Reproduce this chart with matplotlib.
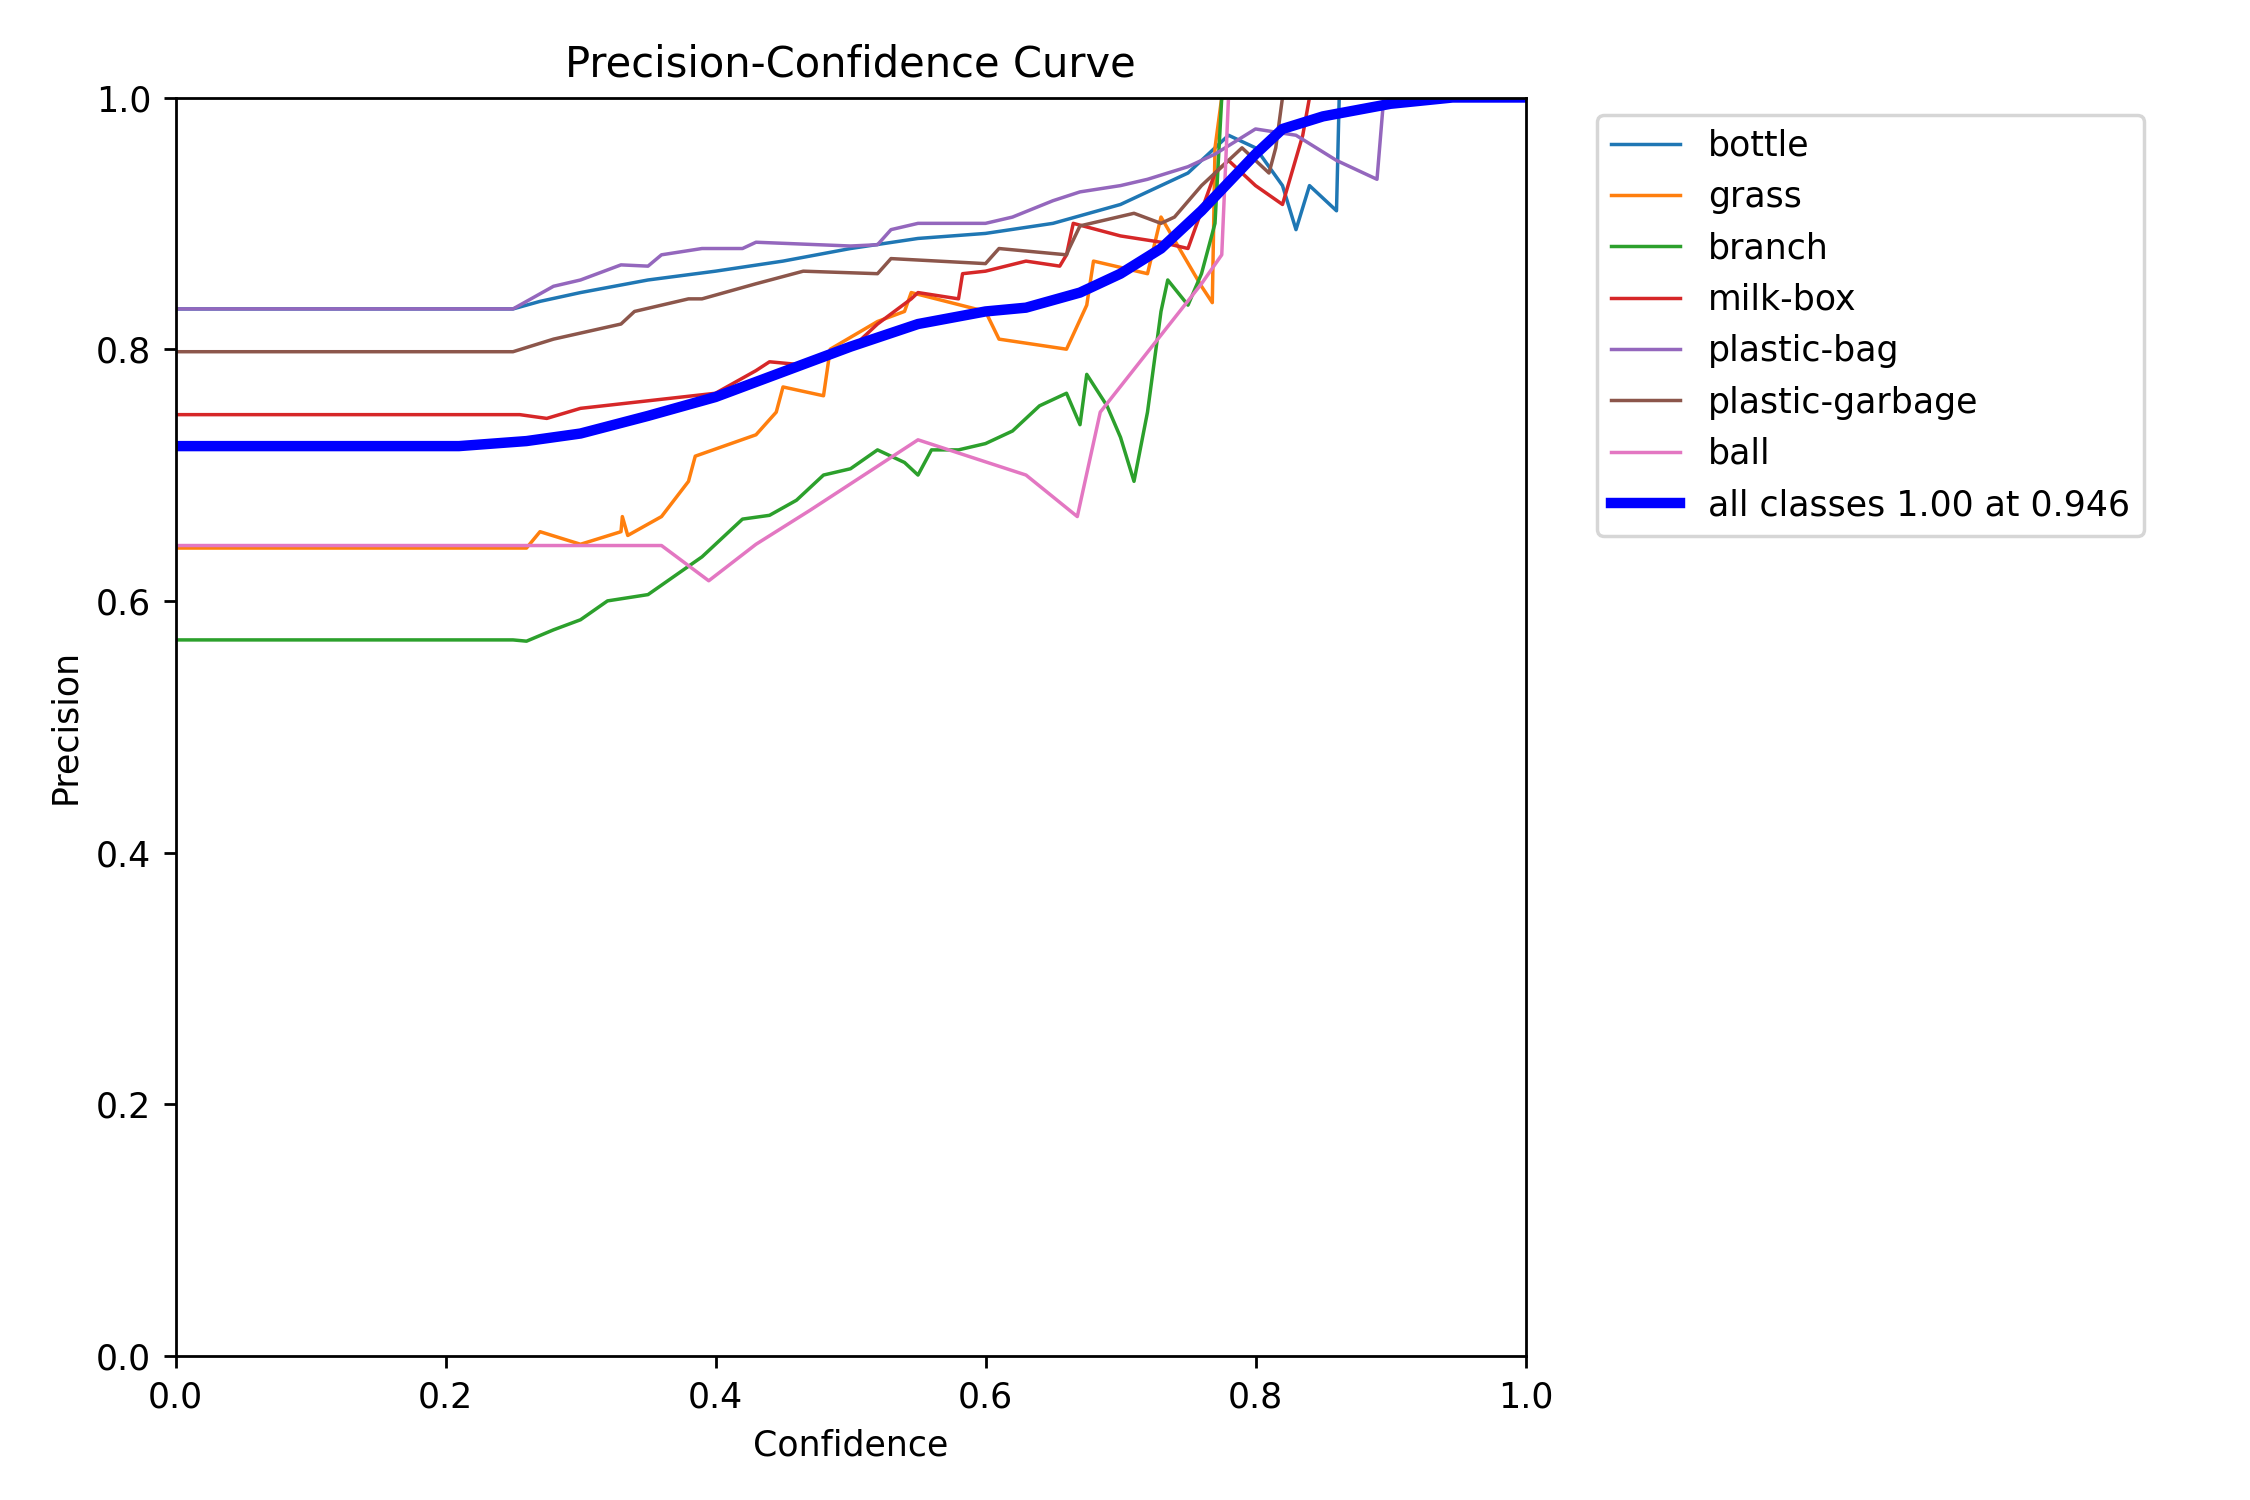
import matplotlib
matplotlib.use("Agg")
import matplotlib.pyplot as plt

names = ["bottle", "grass", "branch", "milk-box", "plastic-bag", "plastic-garbage", "ball"]

bottle_x = [0, .25, .27, .3, .35, .4, .45, .5, .55, .6, .65, .7, .75, .78, .8, .82, .83, .84, .85, .86, .862, 1]
bottle_y = [.832, .832, .838, .845, .855, .862, .87, .88, .888, .892, .9, .915, .94, .97, .96, .93, .895, .93, .92, .91, 1, 1]
grass_x = [0, .26, .27, .3, .33, .331, .335, .36, .38, .385, .43, .445, .45, .48, .485, .52, .54, .545, .6, .61, .66, .675, .68, .72, .73, .76, .768, .77, .775, 1]
grass_y = [.642, .642, .655, .645, .655, .667, .652, .667, .695, .715, .732, .75, .77, .763, .8, .822, .83, .845, .83, .808, .8, .835, .87, .86, .905, .85, .837, .96, 1, 1]
branch_x = [0, .25, .26, .28, .3, .32, .35, .37, .39, .4, .42, .44, .46, .48, .5, .52, .54, .55, .56, .58, .6, .62, .64, .66, .67, .675, .69, .7, .71, .72, .73, .735, .75, .76, .77, .775, 1]
branch_y = [.569, .569, .568, .577, .585, .6, .605, .62, .635, .645, .665, .668, .68, .7, .705, .72, .71, .7, .72, .72, .725, .735, .755, .765, .74, .78, .755, .73, .695, .75, .83, .855, .835, .86, .9, 1, 1]
milk_x = [0, .255, .275, .3, .4, .43, .44, .46, .5, .52, .545, .55, .58, .583, .6, .63, .655, .66, .665, .7, .73, .75, .77, .78, .8, .82, .835, .84, 1]
milk_y = [.748, .748, .745, .753, .765, .783, .79, .788, .8, .82, .84, .845, .84, .86, .862, .87, .866, .875, .9, .89, .885, .88, .94, .95, .93, .915, .97, 1, 1]
bag_x = [0, .25, .28, .3, .33, .35, .36, .39, .42, .43, .5, .52, .53, .55, .6, .62, .65, .67, .7, .72, .75, .77, .8, .83, .86, .88, .89, .895, 1]
bag_y = [.832, .832, .85, .855, .867, .866, .875, .88, .88, .885, .882, .883, .895, .9, .9, .905, .918, .925, .93, .935, .945, .955, .975, .97, .95, .94, .935, 1, 1]
garb_x = [0, .25, .28, .33, .34, .38, .39, .43, .465, .52, .53, .6, .61, .66, .662, .67, .71, .73, .74, .76, .79, .81, .815, .82, 1]
garb_y = [.798, .798, .808, .82, .83, .84, .84, .852, .862, .86, .872, .868, .88, .875, .88, .898, .908, .9, .905, .93, .96, .94, .96, 1, 1]
ball_x = [0, .36, .395, .43, .47, .55, .63, .668, .685, .76, .775, .78, 1]
ball_y = [.644, .644, .616, .645, .672, .728, .7, .667, .75, .852, .875, 1, 1]
all_x = [0, .21, .26, .3, .35, .4, .45, .5, .55, .6, .63, .67, .7, .73, .76, .8, .82, .85, .9, .946, 1]
all_y = [.723, .723, .727, .733, .747, .762, .782, .802, .82, .83, .833, .845, .86, .88, .91, .955, .975, .985, .995, 1, 1]

series = [(bottle_x, bottle_y), (grass_x, grass_y), (branch_x, branch_y), (milk_x, milk_y),
          (bag_x, bag_y), (garb_x, garb_y), (ball_x, ball_y)]

fig, ax = plt.subplots(figsize=(9, 6), dpi=250)
fig.subplots_adjust(left=0.078, right=0.678, top=0.935, bottom=0.096)
for n, (x, y) in zip(names, series):
    ax.plot(x, y, linewidth=1, label=n)
ax.plot(all_x, all_y, linewidth=3, color="blue", label="all classes 1.00 at 0.946")
ax.set_xlabel("Confidence")
ax.set_ylabel("Precision")
ax.set_xlim(0, 1)
ax.set_ylim(0, 1)
ax.legend(bbox_to_anchor=(1.04, 1), loc="upper left")
ax.set_title("Precision-Confidence Curve")
fig.savefig("out.png", dpi=250)
